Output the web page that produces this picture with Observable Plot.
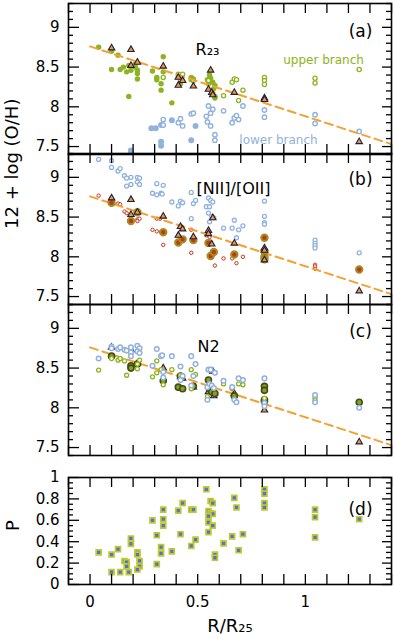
<!DOCTYPE html>
<html><head><meta charset="utf-8">
<script src="https://cdn.jsdelivr.net/npm/d3@7"></script>
<script src="https://cdn.jsdelivr.net/npm/@observablehq/plot@0.6"></script>
<style>
body{margin:0;background:#fff;}
#chart{position:relative;width:394px;height:642px;overflow:hidden;background:#fff;}
#chart svg{position:absolute;left:0;}
</style></head><body><div id="chart"></div>
<script>
// ---------- DATA ----------
// tick values
const xTicks = [-0.1,0,0.1,0.2,0.3,0.4,0.5,0.6,0.7,0.8,0.9,1,1.1,1.2,1.3,1.4];
const xLabels = [0, 0.5, 1];
const ohMajor = [7.5, 8, 8.5, 9];
const ohMinor = [7.4,7.6,7.7,7.8,7.9,8.1,8.2,8.3,8.4,8.6,8.7,8.8,8.9,9.1,9.2,9.3];
const pMajor = [0, 0.2, 0.4, 0.6, 0.8, 1];
const pMinor = [0.05,0.1,0.15,0.25,0.3,0.35,0.45,0.5,0.55,0.65,0.7,0.75,0.85,0.9,0.95];

// abundance gradient (dashed line)
const gradX = [0, 1.4];
const gradY = [8.76, 7.53];

// Panel (a) R23
const aGreenFilledX = [0.04,0.10,0.10,0.13,0.14,0.155,0.17,0.18,0.18,0.19,0.21,0.21,0.22,0.22,0.22,0.29,0.31,0.31,0.33,0.33,0.34,0.34,0.38,0.41,0.42,0.47,0.47,0.48,0.545,0.55,0.555,0.56,0.57,0.58,0.57,0.58,0.58,0.575];
const aGreenFilledY = [8.75,8.70,8.47,8.65,8.47,8.50,8.44,8.13,8.52,8.46,8.54,8.50,8.46,8.42,8.35,8.45,8.37,8.34,8.29,8.21,8.63,8.44,8.05,8.38,8.29,8.37,8.34,8.35,8.34,8.29,8.40,8.36,8.31,8.27,8.17,8.13,8.11,8.23];
const aGreenOpenX = [0.34,0.41,0.43,0.42,0.48,0.55,0.62,0.66,0.67,0.68,0.71,0.69,0.81,0.81,0.81,1.045,1.045,1.25];
const aGreenOpenY = [8.37,8.41,8.41,8.34,8.33,8.33,8.14,8.31,8.35,8.34,8.21,8.08,8.37,8.33,8.28,8.36,8.30,8.47];
const aBlueFilledX = [0.285,0.305,0.33,0.38,0.33,0.33,0.49,0.47,0.19,0.19];
const aBlueFilledY = [7.73,7.73,7.77,7.83,7.56,7.51,7.76,7.58,7.45,7.43];
const aBlueOpenX = [0.34,0.34,0.41,0.42,0.43,0.47,0.48,0.54,0.55,0.545,0.56,0.57,0.58,0.58,0.56,0.62,0.66,0.67,0.68,0.69,0.71,0.81,0.81,1.045,1.045,1.25];
const aBlueOpenY = [7.84,7.77,7.80,7.85,7.76,7.91,7.92,7.88,8.01,7.81,7.76,7.97,7.65,7.58,7.92,7.95,7.80,7.86,7.89,7.84,8.01,7.96,7.87,7.90,7.79,7.69];
const aTriX = [0.10,0.19,0.19,0.22,0.34,0.41,0.43,0.41,0.48,0.56,0.55,0.565,0.57,0.67,0.81,0.81,1.25];
const aTriY = [8.74,8.72,8.52,8.56,8.51,8.37,8.33,8.27,8.26,8.46,8.22,8.18,8.15,8.18,8.11,8.09,7.56];

// Panel (b) [NII]/[OII]
const bBlueOpenX = [0.04,0.10,0.10,0.13,0.14,0.16,0.17,0.17,0.19,0.19,0.22,0.23,0.22,0.23,0.31,0.34,0.29,0.31,0.33,0.335,0.38,0.41,0.42,0.43,0.47,0.48,0.49,0.47,0.55,0.56,0.57,0.54,0.555,0.55,0.565,0.575,0.555,0.62,0.66,0.67,0.69,0.71,0.68,0.81,0.81,0.81,0.81,1.045,1.045,1.045,1.045,1.25];
const bBlueOpenY = [9.225,9.21,9.125,9.08,9.11,9.02,8.99,8.89,8.91,9.00,9.00,8.99,8.94,8.91,8.92,8.90,8.80,8.78,8.80,8.79,8.69,8.64,8.70,8.68,8.81,8.67,8.71,8.48,8.74,8.71,8.69,8.63,8.63,8.55,8.51,8.49,8.44,8.36,8.36,8.46,8.34,8.39,8.24,8.70,8.51,8.43,8.41,8.21,8.17,8.14,8.11,8.05];
const bRedOpenX = [0.04,0.10,0.13,0.14,0.16,0.17,0.19,0.22,0.23,0.22,0.29,0.31,0.33,0.31,0.325,0.34,0.41,0.43,0.47,0.47,0.54,0.555,0.58,0.62,0.66,0.67,0.68,0.71,1.045,1.045,1.045];
const bRedOpenY = [8.77,8.74,8.67,8.66,8.57,8.55,8.49,8.47,8.48,8.45,8.34,8.32,8.31,8.48,8.48,8.15,8.27,8.23,8.34,8.05,8.27,8.25,7.89,7.98,7.98,8.03,7.92,8.00,7.90,7.88,7.85];
const bBigX = [0.10,0.19,0.22,0.34,0.41,0.43,0.48,0.55,0.56,0.575,0.67,0.81,0.81,0.81,0.81,1.25];
const bBigY = [8.68,8.45,8.56,8.31,8.18,8.22,8.21,8.175,8.01,8.06,8.03,8.24,8.07,8.00,7.97,7.84];
const bTriX = [0.10,0.19,0.19,0.22,0.34,0.42,0.43,0.41,0.48,0.55,0.55,0.57,0.565,0.67,0.81,0.81,0.81,1.25];
const bTriY = [8.74,8.72,8.53,8.56,8.51,8.38,8.35,8.27,8.25,8.33,8.29,8.49,8.16,8.17,8.11,8.08,7.96,7.57];

// Panel (c) N2
const cBlueOpenX = [0.04,0.10,0.10,0.13,0.14,0.16,0.17,0.19,0.19,0.19,0.22,0.23,0.22,0.23,0.31,0.33,0.335,0.29,0.34,0.34,0.38,0.42,0.43,0.42,0.47,0.49,0.47,0.48,0.55,0.56,0.58,0.545,0.555,0.565,0.575,0.545,0.62,0.66,0.69,0.71,0.67,0.68,0.81,0.81,0.81,1.045,1.045,1.25];
const cBlueOpenY = [8.62,8.77,8.75,8.74,8.76,8.73,8.72,8.76,8.70,8.65,8.78,8.75,8.71,8.69,8.74,8.65,8.66,8.53,8.45,8.38,8.65,8.52,8.40,8.35,8.65,8.55,8.28,8.40,8.48,8.48,8.44,8.26,8.30,8.28,8.25,8.10,8.34,8.26,8.37,8.35,8.10,8.07,8.37,8.06,8.02,8.16,8.07,8.00];
const cGreenOpenX = [0.04,0.10,0.13,0.14,0.16,0.17,0.22,0.23,0.22,0.29,0.31,0.31,0.33,0.34,0.38,0.42,0.47,0.49,0.47,0.545,0.62,0.66,0.69,0.71,1.045,1.045,0.81];
const cGreenOpenY = [8.475,8.62,8.60,8.62,8.59,8.41,8.49,8.60,8.55,8.39,8.44,8.59,8.48,8.29,8.48,8.41,8.48,8.42,8.24,8.14,8.30,8.24,8.30,8.29,8.13,8.10,8.12];
const cBigX = [0.10,0.19,0.19,0.22,0.34,0.41,0.42,0.43,0.48,0.55,0.555,0.565,0.58,0.67,0.81,0.81,0.81,0.81,1.25];
const cBigY = [8.65,8.53,8.50,8.55,8.34,8.26,8.40,8.24,8.27,8.35,8.24,8.20,8.18,8.15,8.27,8.22,8.10,8.08,8.07];
const cTriX = [0.10,0.19,0.22,0.34,0.42,0.43,0.48,0.57,0.55,0.575,0.67,0.81,1.25];
const cTriY = [8.76,8.73,8.56,8.50,8.39,8.37,8.26,8.46,8.20,8.15,8.18,7.97,7.57];

// Panel (d) P
const dX = [0.04,0.10,0.13,0.10,0.14,0.18,0.16,0.17,0.17,0.19,0.19,0.22,0.22,0.23,0.23,0.22,0.29,0.31,0.31,0.33,0.33,0.34,0.34,0.34,0.38,0.41,0.42,0.43,0.47,0.48,0.47,0.49,0.54,0.55,0.56,0.57,0.55,0.55,0.55,0.56,0.57,0.57,0.58,0.58,0.62,0.66,0.67,0.68,0.69,0.71,0.81,0.81,0.81,0.81,1.045,1.045,1.045,1.25];
const dP = [0.30,0.28,0.33,0.115,0.115,0.115,0.22,0.21,0.17,0.43,0.38,0.30,0.28,0.22,0.17,0.14,0.60,0.46,0.19,0.35,0.29,0.70,0.61,0.55,0.31,0.69,0.47,0.76,0.70,0.70,0.36,0.42,0.89,0.685,0.665,0.66,0.64,0.58,0.49,0.78,0.76,0.55,0.28,0.25,0.385,0.45,0.81,0.72,0.32,0.47,0.89,0.85,0.76,0.72,0.70,0.63,0.44,0.61];

// ---------- DRAWING ----------
const chart = document.getElementById("chart");
const W = 394, ML = 68, MR = 3, PW = W - ML - MR;
const xDomain = [-0.1, 1.4];
const ohDomain = [7.4, 9.3];
const FONT = "DejaVu Sans";
const C = {
  green: "#8db321", blue: "#92b2de", line: "#f5a031",
  triFill: "#f39a22", triStroke: "#1d1d4f", red: "#cc3322",
  bigRedFill: "#bf3a1d", bigRedStroke: "#a38f1f",
  bigGreenFill: "#7fa41d", bigGreenStroke: "#48491a",
  sqFill: "#4a78cf", sqStroke: "#c5c82e"
};
const pts = (xs, ys) => xs.map((x, i) => ({x, y: ys[i]}));

function frameTicks(ph, major, minor, majorLen) {
  const tk = {stroke: "black", strokeWidth: 1.3};
  return [
    Plot.ruleY(major, {...tk, insetRight: PW - majorLen}),
    Plot.ruleY(major, {...tk, insetLeft: PW - 9}),
    Plot.ruleY(minor, {...tk, insetRight: PW - 5}),
    Plot.ruleY(minor, {...tk, insetLeft: PW - 5}),
    Plot.ruleX(xTicks, {...tk, insetTop: ph - 10}),
    Plot.ruleX(xTicks, {...tk, insetBottom: ph - 10}),
    Plot.frame({stroke: "black", strokeWidth: 1.6})
  ];
}
const yLabelAxis = (ticks) => Plot.axisY({ticks, tickSize: 0, tickPadding: 9, tickFormat: d => String(d), fontSize: 15, label: null});
const gradLine = () => Plot.line(pts(gradX, gradY), {x: "x", y: "y", stroke: C.line, strokeWidth: 2, strokeDasharray: "8,5", clip: true});
const tri = (xs, ys) => Plot.dot(pts(xs, ys), {x: "x", y: "y", symbol: "triangle", r: 2.4, fill: C.triFill, stroke: C.triStroke, strokeWidth: 1.1});
const tag = (t, dy) => Plot.text([t], {frameAnchor: "top-right", dx: -31, dy, fontSize: 17, textAnchor: "middle"});
const title = (t, dx, dy) => Plot.text([t], {frameAnchor: "top-left", dx, dy, fontSize: 16, textAnchor: "middle"});

function panel(top, height, mt, mb, yDomain, marks, xAxis) {
  const svg = Plot.plot({
    width: W, height, marginLeft: ML, marginRight: MR, marginTop: mt, marginBottom: mb,
    x: {domain: xDomain, axis: xAxis ? undefined : null},
    y: {domain: yDomain},
    style: {fontFamily: FONT, fontSize: "15px", color: "black", background: "transparent", overflow: "visible"},
    marks
  });
  svg.style.top = top + "px";
  chart.appendChild(svg);
}

// (a)
panel(0, 155, 3, 1, ohDomain, [
  Plot.dot(pts(aGreenFilledX, aGreenFilledY), {x: "x", y: "y", r: 2.7, fill: C.green}),
  Plot.dot(pts(aGreenOpenX, aGreenOpenY), {x: "x", y: "y", r: 2.1, stroke: C.green, strokeWidth: 1.3, fill: "white"}),
  Plot.dot(pts(aBlueFilledX, aBlueFilledY), {x: "x", y: "y", r: 3, fill: C.blue, clip: true}),
  Plot.dot(pts(aBlueOpenX, aBlueOpenY), {x: "x", y: "y", r: 2.2, stroke: C.blue, strokeWidth: 1.4, fill: "white"}),
  gradLine(),
  tri(aTriX, aTriY),
  title("R₂₃", 139, 40),
  Plot.text(["upper branch"], {frameAnchor: "top-left", dx: 255, dy: 52, fontSize: 12, fill: C.green, textAnchor: "middle"}),
  Plot.text(["lower branch"], {frameAnchor: "top-left", dx: 210, dy: 132, fontSize: 12, fill: C.blue, textAnchor: "middle"}),
  tag("(a)", 21),
  yLabelAxis(ohMajor),
  ...frameTicks(151, ohMajor, ohMinor, 11)
]);

// (b)
panel(150, 155, 3, 1, ohDomain, [
  Plot.dot(pts(bBlueOpenX, bBlueOpenY), {x: "x", y: "y", r: 2, stroke: C.blue, strokeWidth: 1.3, fill: "white"}),
  Plot.dot(pts(bRedOpenX, bRedOpenY), {x: "x", y: "y", r: 1.7, stroke: C.red, strokeWidth: 1, fill: "white"}),
  gradLine(),
  Plot.dot(pts(bBigX, bBigY), {x: "x", y: "y", r: 3.2, fill: C.bigRedFill, stroke: C.bigRedStroke, strokeWidth: 2}),
  tri(bTriX, bTriY),
  title("[NII]/[OII]", 165, 29),
  tag("(b)", 19),
  yLabelAxis(ohMajor),
  Plot.text(["12 + log (O/H)"], {frameAnchor: "left", dx: -56, rotate: -90, fontSize: 18}),
  ...frameTicks(151, ohMajor, ohMinor, 11)
]);

// (c)
panel(301, 155, 3, 1, ohDomain, [
  gradLine(),
  tri(cTriX, cTriY),
  Plot.dot(pts(cBigX, cBigY), {x: "x", y: "y", r: 3, fill: C.bigGreenFill, stroke: C.bigGreenStroke, strokeWidth: 1.6}),
  Plot.dot(pts(cGreenOpenX, cGreenOpenY), {x: "x", y: "y", r: 2, stroke: C.green, strokeWidth: 1.3, fill: "white"}),
  Plot.dot(pts(cBlueOpenX, cBlueOpenY), {x: "x", y: "y", r: 2.3, stroke: C.blue, strokeWidth: 1.5, fill: "white"}),
  title("N2", 140, 36),
  tag("(c)", 20),
  yLabelAxis(ohMajor),
  ...frameTicks(151, ohMajor, ohMinor, 11)
]);

// (d)
panel(474, 168, 3, 58, [0, 1], [
  Plot.dot(pts(dX, dP), {x: "x", y: "y", symbol: "square", r: 2.8, fill: C.sqFill, stroke: C.sqStroke, strokeWidth: 1.7}),
  tag("(d)", 25),
  yLabelAxis(pMajor),
  Plot.axisX({ticks: xLabels, tickSize: 0, tickPadding: 12, tickFormat: d => String(d), fontSize: 15, label: null}),
  Plot.text(["P"], {frameAnchor: "left", dx: -55, rotate: -90, fontSize: 18}),
  Plot.text(["R/R₂₅"], {frameAnchor: "bottom", dy: 47, fontSize: 18}),
  ...frameTicks(107, pMajor, pMinor, 11)
], true);
</script></body></html>
